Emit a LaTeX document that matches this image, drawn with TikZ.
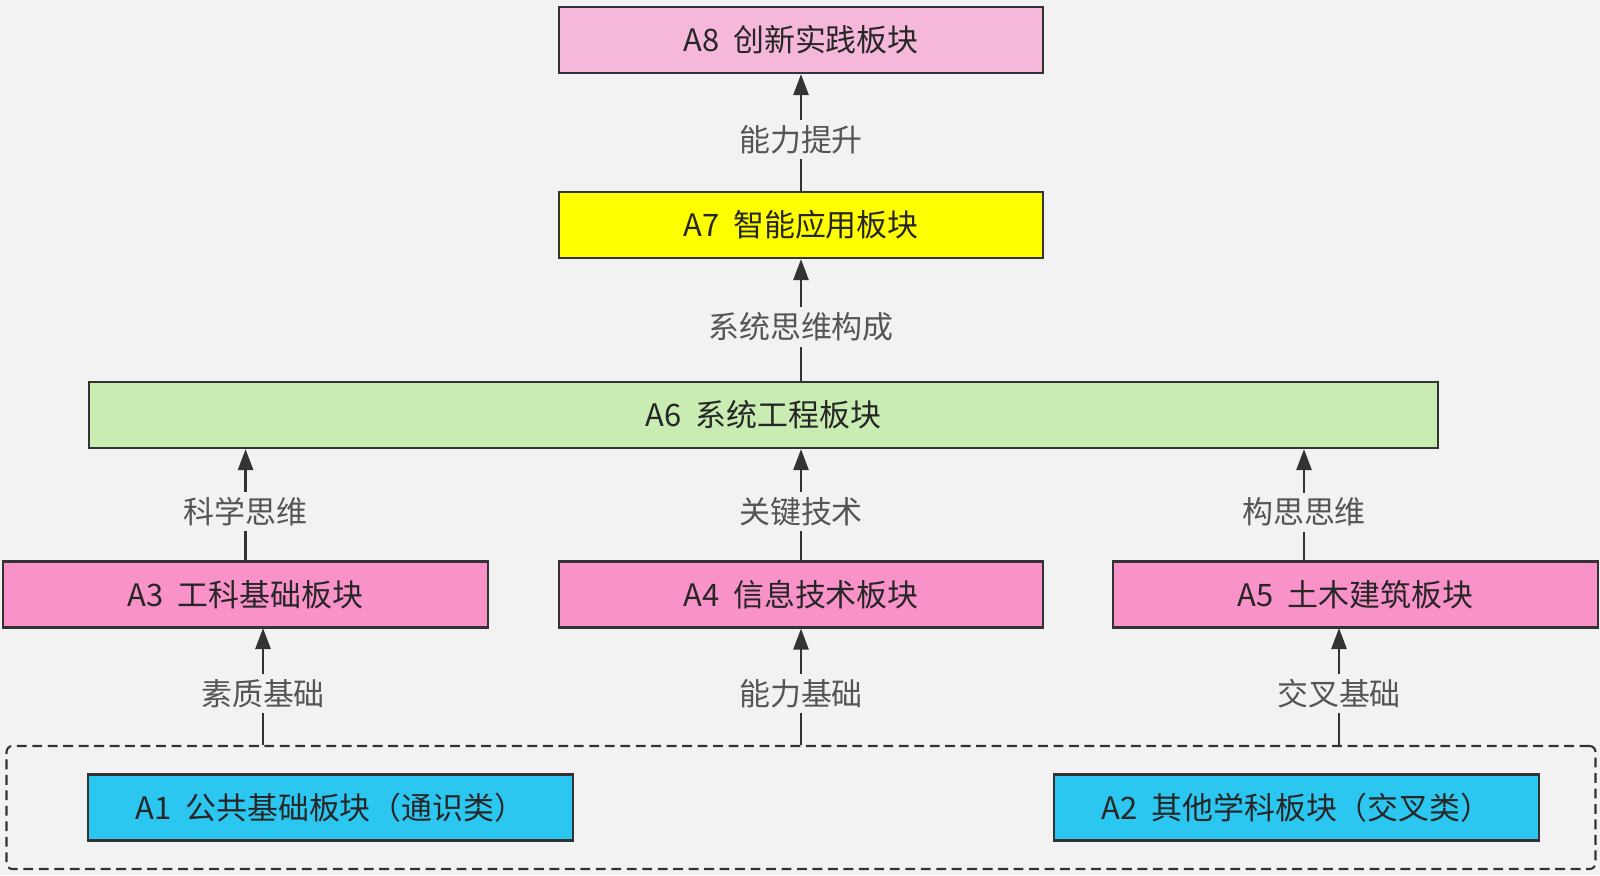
\documentclass[tikz,border=0pt]{standalone}
\usepackage{fontspec}
\newfontfamily\cjk{Noto Sans CJK SC}
\usepackage{xcolor}
\usetikzlibrary{arrows.meta,positioning}
\definecolor{bgcol}{HTML}{F2F2F2}
\definecolor{linecol}{HTML}{333333}
\definecolor{labelcol}{HTML}{555555}
\definecolor{pinklight}{HTML}{F6B8DA}
\definecolor{yellowbox}{HTML}{FFFF00}
\definecolor{greenbox}{HTML}{C8ECB2}
\definecolor{pinkbox}{HTML}{F992C9}
\definecolor{cyanbox}{HTML}{2CC7F0}
\newcommand{\gap}{\hspace{0.45em}}

\begin{document}
\begin{tikzpicture}[
    x=0.01cm, y=-0.01cm,
    font=\cjk\fontsize{8.8}{10}\selectfont,
    block/.style={draw=linecol, line width=0.6pt, inner sep=0pt, minimum height=0.66cm, text=black!85},
    top/.style={block, fill=pinklight, minimum width=4.84cm},
    smart/.style={block, fill=yellowbox, minimum width=4.84cm},
    system/.style={block, fill=greenbox, minimum width=13.49cm},
    module/.style={block, fill=pinkbox, minimum width=4.84cm},
    base/.style={block, fill=cyanbox, minimum width=4.84cm},
    group/.style={draw=linecol, line width=0.6pt, dash pattern=on 2.8pt off 1.6pt, rounded corners=0.06cm, inner sep=0pt},
    arrow/.style={-{Triangle[length=0.21cm,width=0.15cm]}, draw=linecol, line width=0.75pt},
    lbl/.style={fill=bgcol, text=labelcol, inner sep=1.5pt, yshift=-0.07cm}
]

% background
\fill[bgcol] (0,0) rectangle (1600,875);

% top levels
\node[top] (a8) at (801,40) {A8\gap 创新实践板块};
\node[smart] (a7) at (801,225) {A7\gap 智能应用板块};
\node[system] (a6) at (763.5,415) {A6\gap 系统工程板块};

% middle row
\node[module] (a4) at (801,594.5) {A4\gap 信息技术板块};
\node[module, left=0.69cm of a4] (a3) {A3\gap 工科基础板块};
\node[module, right=0.68cm of a4] (a5) {A5\gap 土木建筑板块};

% base group
\node[group, minimum width=15.88cm, minimum height=1.23cm] (grp) at (801,807.5) {};
\node[base] (a1) at (330.5,807.5) {A1\gap 公共基础板块（通识类）};
\node[base] (a2) at (1296.5,807.5) {A2\gap 其他学科板块（交叉类）};

\coordinate (p3) at (263,628);
\coordinate (p5) at (1339,628);
\coordinate (q5) at (1304,561);

\draw[arrow] (grp.north -| p3) -- (p3) node[lbl, midway] {素质基础};
\draw[arrow] (grp.north -| a4) -- (a4.south) node[lbl, midway] {能力基础};
\draw[arrow] (grp.north -| p5) -- (p5) node[lbl, midway] {交叉基础};

\draw[arrow] (a3.north) -- (a3.north |- a6.south) node[lbl, midway] {科学思维};
\draw[arrow] (a4.north) -- (a4.north |- a6.south) node[lbl, midway] {关键技术};
\draw[arrow] (q5) -- (q5 |- a6.south) node[lbl, midway] {构思思维};

\draw[arrow] (a6.north -| a7) -- (a7.south) node[lbl, midway] {系统思维构成};
\draw[arrow] (a7.north) -- (a8.south) node[lbl, midway] {能力提升};

\end{tikzpicture}
\end{document}
